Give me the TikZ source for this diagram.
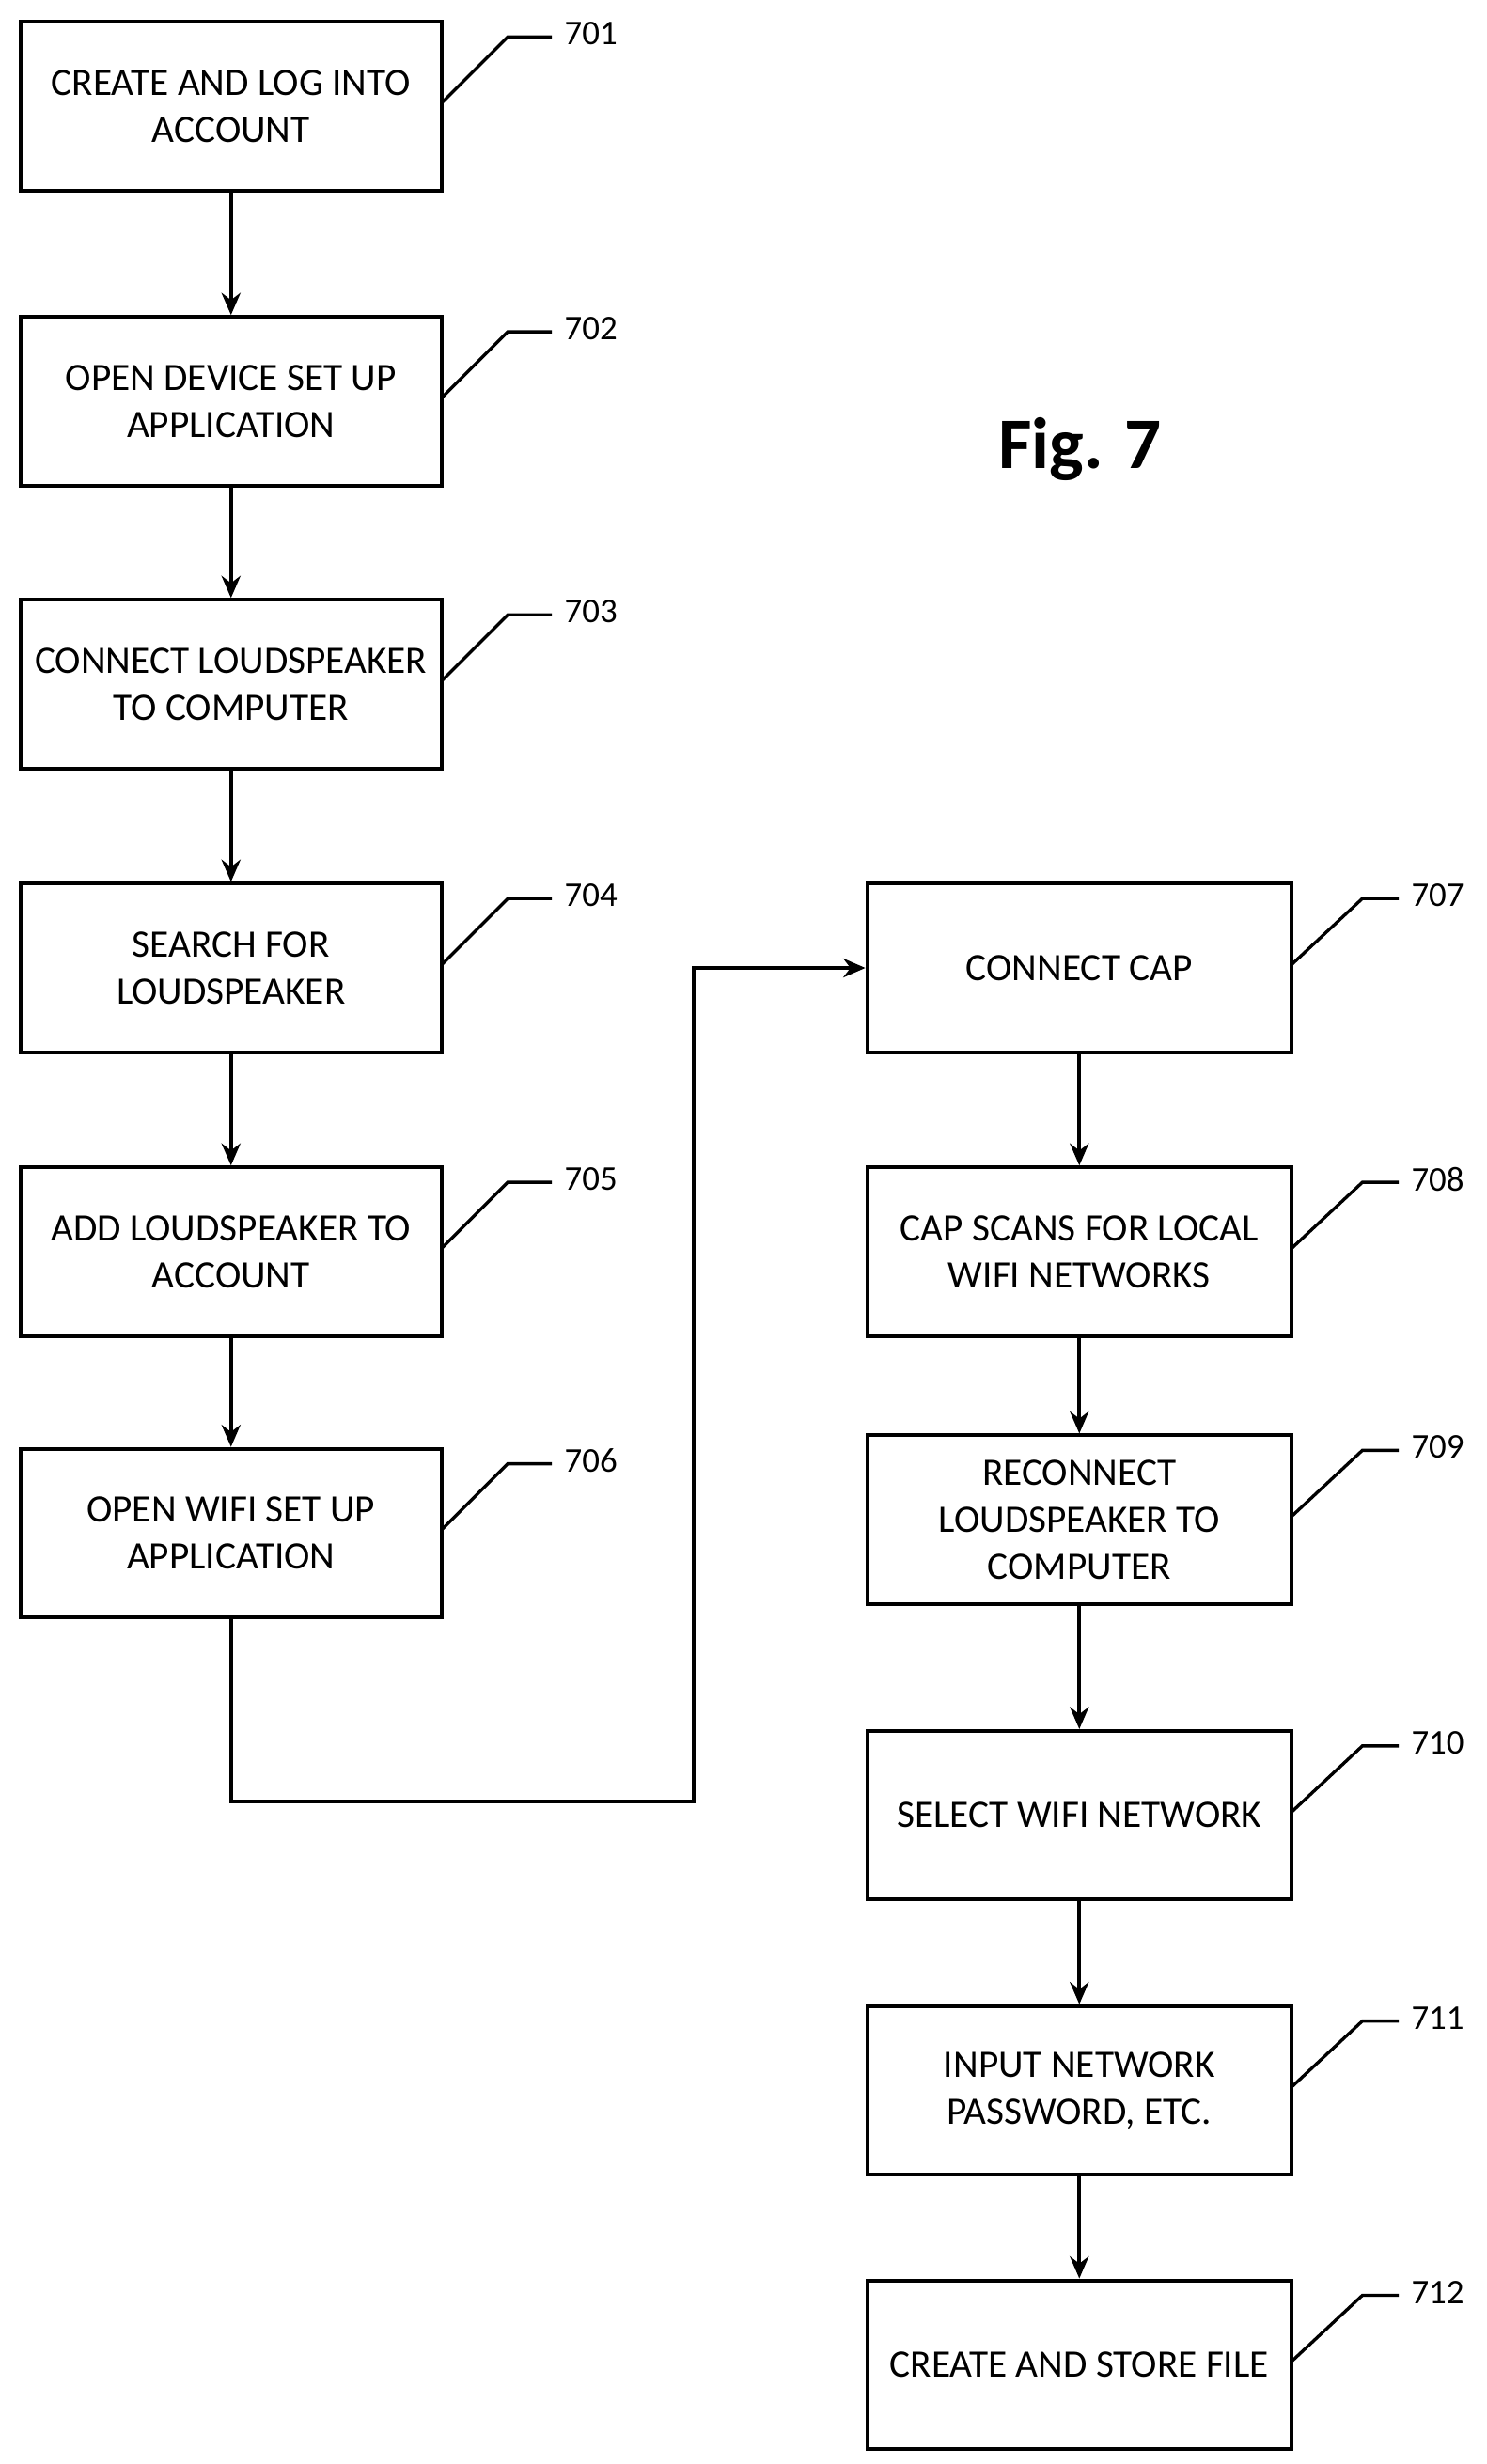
\documentclass[tikz,border=0pt]{standalone}
\usepackage{fontspec}
\setmainfont{Carlito}
\usetikzlibrary{arrows.meta}
\begin{document}
\begin{tikzpicture}[x=0.5pt,y=-0.5pt,
  box/.style={draw,line width=1.2pt,minimum width=133.5pt,minimum height=53.5pt,align=center,font=\fontsize{12.3}{15}\selectfont,inner sep=1pt},
  rbox/.style={box,minimum width=134.5pt},
  arr/.style={line width=1.2pt,-{Stealth[length=7pt,width=6pt]}},
  lead/.style={line width=1pt},
  lab/.style={font=\fontsize{11}{13}\selectfont,anchor=west}]
\useasboundingbox (0,0) rectangle (943,1563);
\node[box] (a) at (146.5,67.5) {CREATE AND LOG INTO\\ACCOUNT};
\node[box] (b) at (146.5,254.5) {OPEN DEVICE SET UP\\APPLICATION};
\node[box] (c) at (146.5,434) {CONNECT LOUDSPEAKER\\TO COMPUTER};
\node[box] (d) at (146.5,614) {SEARCH FOR\\LOUDSPEAKER};
\node[box] (e) at (146.5,794) {ADD LOUDSPEAKER TO\\ACCOUNT};
\node[box] (f) at (146.5,972.5) {OPEN WIFI SET UP\\APPLICATION};
\node[rbox] (g) at (684.5,614) {CONNECT CAP};
\node[rbox] (h) at (684.5,794) {CAP SCANS FOR LOCAL\\WIFI NETWORKS};
\node[rbox] (i) at (684.5,964) {RECONNECT\\LOUDSPEAKER TO\\COMPUTER};
\node[rbox] (j) at (684.5,1151.5) {SELECT WIFI NETWORK};
\node[rbox] (k) at (684.5,1326) {INPUT NETWORK\\PASSWORD, ETC.};
\node[rbox] (l) at (684.5,1500) {CREATE AND STORE FILE};
\draw[arr] (a) -- (b);
\draw[arr] (b) -- (c);
\draw[arr] (c) -- (d);
\draw[arr] (d) -- (e);
\draw[arr] (e) -- (f);
\draw[arr] (g) -- (h);
\draw[arr] (h) -- (i);
\draw[arr] (i) -- (j);
\draw[arr] (j) -- (k);
\draw[arr] (k) -- (l);
\coordinate (t1) at (146.5,1143);
\coordinate (t2) at (440,1143);
\coordinate (t3) at (440,614);
\draw[arr] (f.south) -- (t1) -- (t2) -- (t3) -- (g.west);
\foreach \n/\cy/\lbl in {a/67.5/701,b/254.5/702,c/434/703,d/614/704,e/794/705,f/972.5/706}{
  \draw[lead] (280,\cy-2) -- (322,\cy-44) -- (350,\cy-44);
  \node[lab] (L\lbl) at (351,\cy-46) {\lbl};
}
\foreach \n/\cy/\lbl in {g/614/707,h/794/708,i/964/709,j/1151.5/710,k/1326/711,l/1500/712}{
  \draw[lead] (819,\cy-2) -- (864,\cy-44) -- (887,\cy-44);
  \node[lab] (L\lbl) at (888,\cy-46) {\lbl};
}
\node[font=\bfseries\fontsize{23}{27}\selectfont] (fig) at (685,285) {Fig. 7};
\end{tikzpicture}
\end{document}
